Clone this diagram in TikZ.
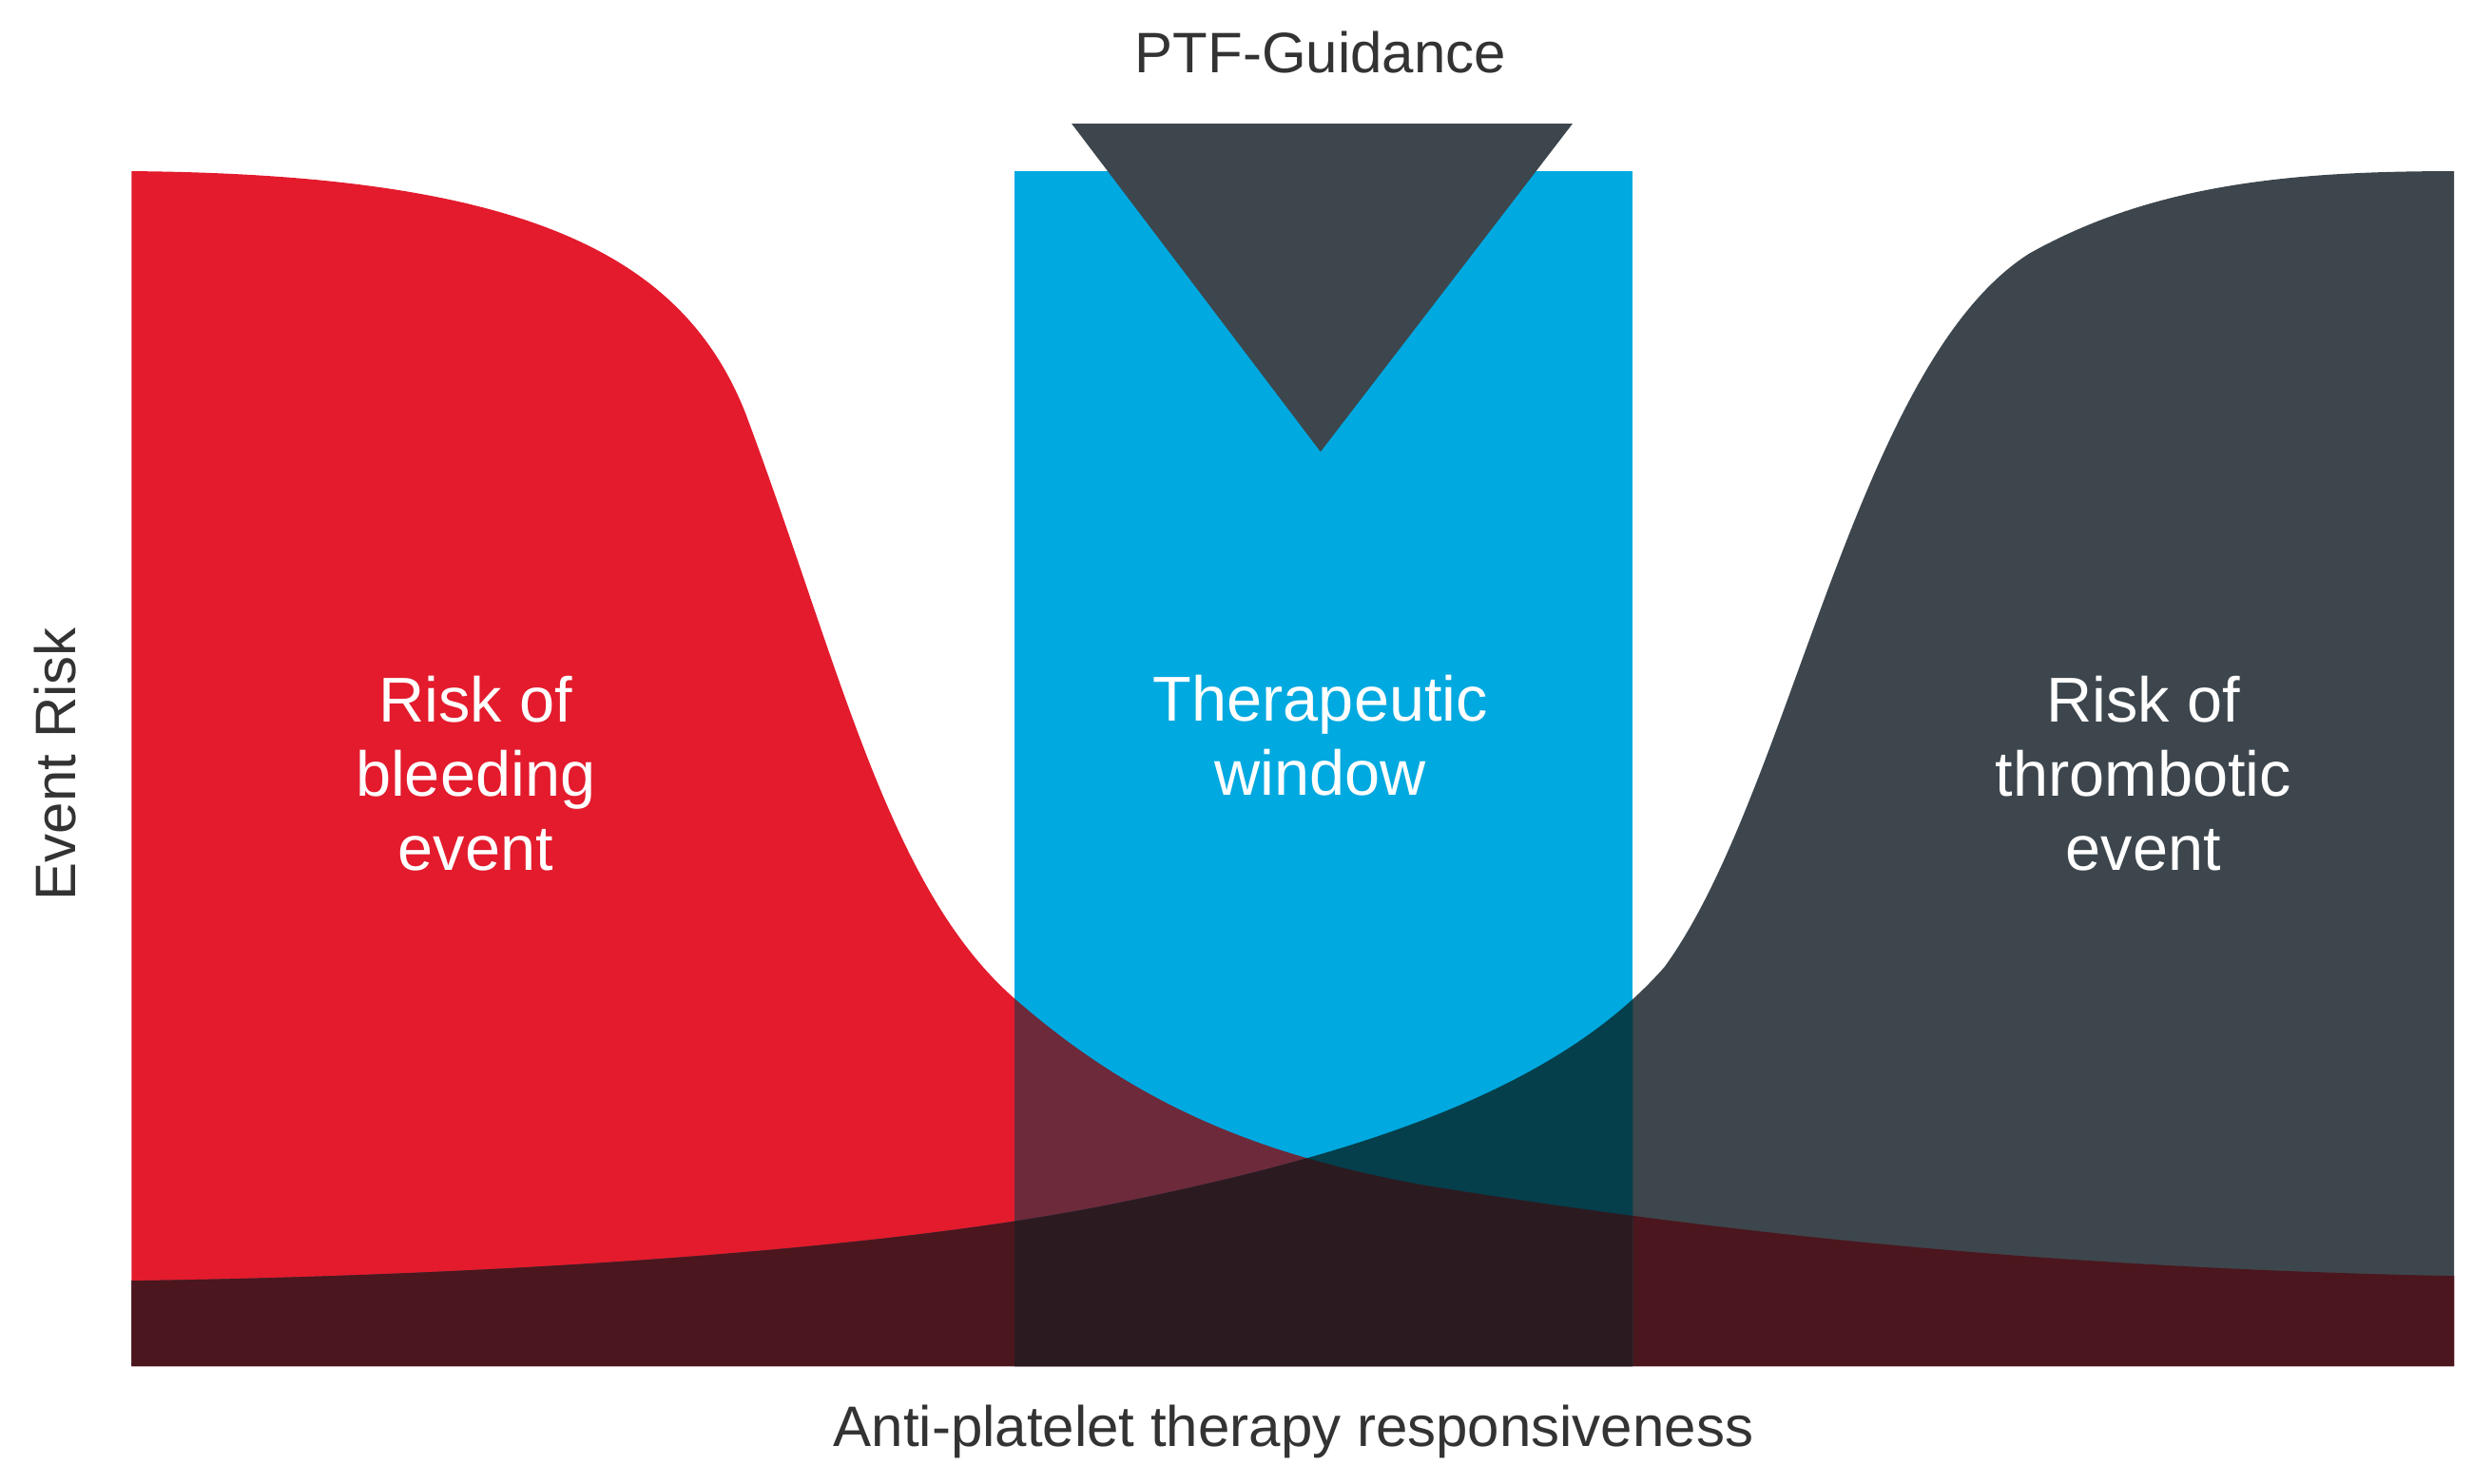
\documentclass[tikz,border=0pt]{standalone}
\usepackage{fontspec}
\setmainfont{Liberation Sans}
\definecolor{cred}{HTML}{E31B2D}
\definecolor{cdark}{HTML}{3D464D}
\definecolor{cblue}{HTML}{00A9E0}
\definecolor{credark}{HTML}{4B161D}
\definecolor{credblue}{HTML}{6D2A3B}
\definecolor{cdarkblue}{HTML}{053F4B}
\definecolor{call}{HTML}{2C1A21}
\definecolor{ctext}{HTML}{333333}
\begin{document}
\begin{tikzpicture}[x=1pt,y=-1pt,
  lab/.style={text=white,align=center,font=\fontsize{40}{47}\selectfont},
  axis/.style={text=ctext,font=\fontsize{36}{40}\selectfont}]
\useasboundingbox (0,0) rectangle (1560,936);
\def\redpath{(83,862) -- (83,108) .. controls (330,110) and (430,160) .. (470,260) .. controls (530,420) and (560,560) .. (640,630) .. controls (720,700) and (800,730) .. (900,748) .. controls (1100,780) and (1300,800) .. (1548,805) -- (1548,862) -- cycle}
\def\darkpath{(83,862) -- (83,808) .. controls (300,805) and (550,790) .. (700,760) .. controls (850,730) and (980,690) .. (1050,610) .. controls (1130,500) and (1170,230) .. (1280,160) .. controls (1360,115) and (1450,108) .. (1548,108) -- (1548,862) -- cycle}
\fill[cred] \redpath;
\fill[cdark] \darkpath;
\begin{scope}\clip \redpath; \fill[credark] \darkpath; \end{scope}
\fill[cblue] (640,108) rectangle (1030,862);
\begin{scope}
 \clip (640,108) rectangle (1030,862);
 \fill[credblue] \redpath;
 \fill[cdarkblue] \darkpath;
 \begin{scope}\clip \redpath; \fill[call] \darkpath; \end{scope}
\end{scope}
\fill[cdark] (676,78) -- (992,78) -- (833,285) -- cycle;
\node[axis] (ptf) at (833,33) {PTF-Guidance};
\node[lab] (bleed) at (300,488) {Risk of\\bleeding\\event};
\node[lab] (ther) at (833,464) {Therapeutic\\window};
\node[lab] (thromb) at (1352,488) {Risk of\\thrombotic\\event};
\node[axis,rotate=90] (yl) at (35,482) {Event Risk};
\node[axis] (xl) at (816,903) {Anti-platelet therapy responsiveness};
\end{tikzpicture}
\end{document}
